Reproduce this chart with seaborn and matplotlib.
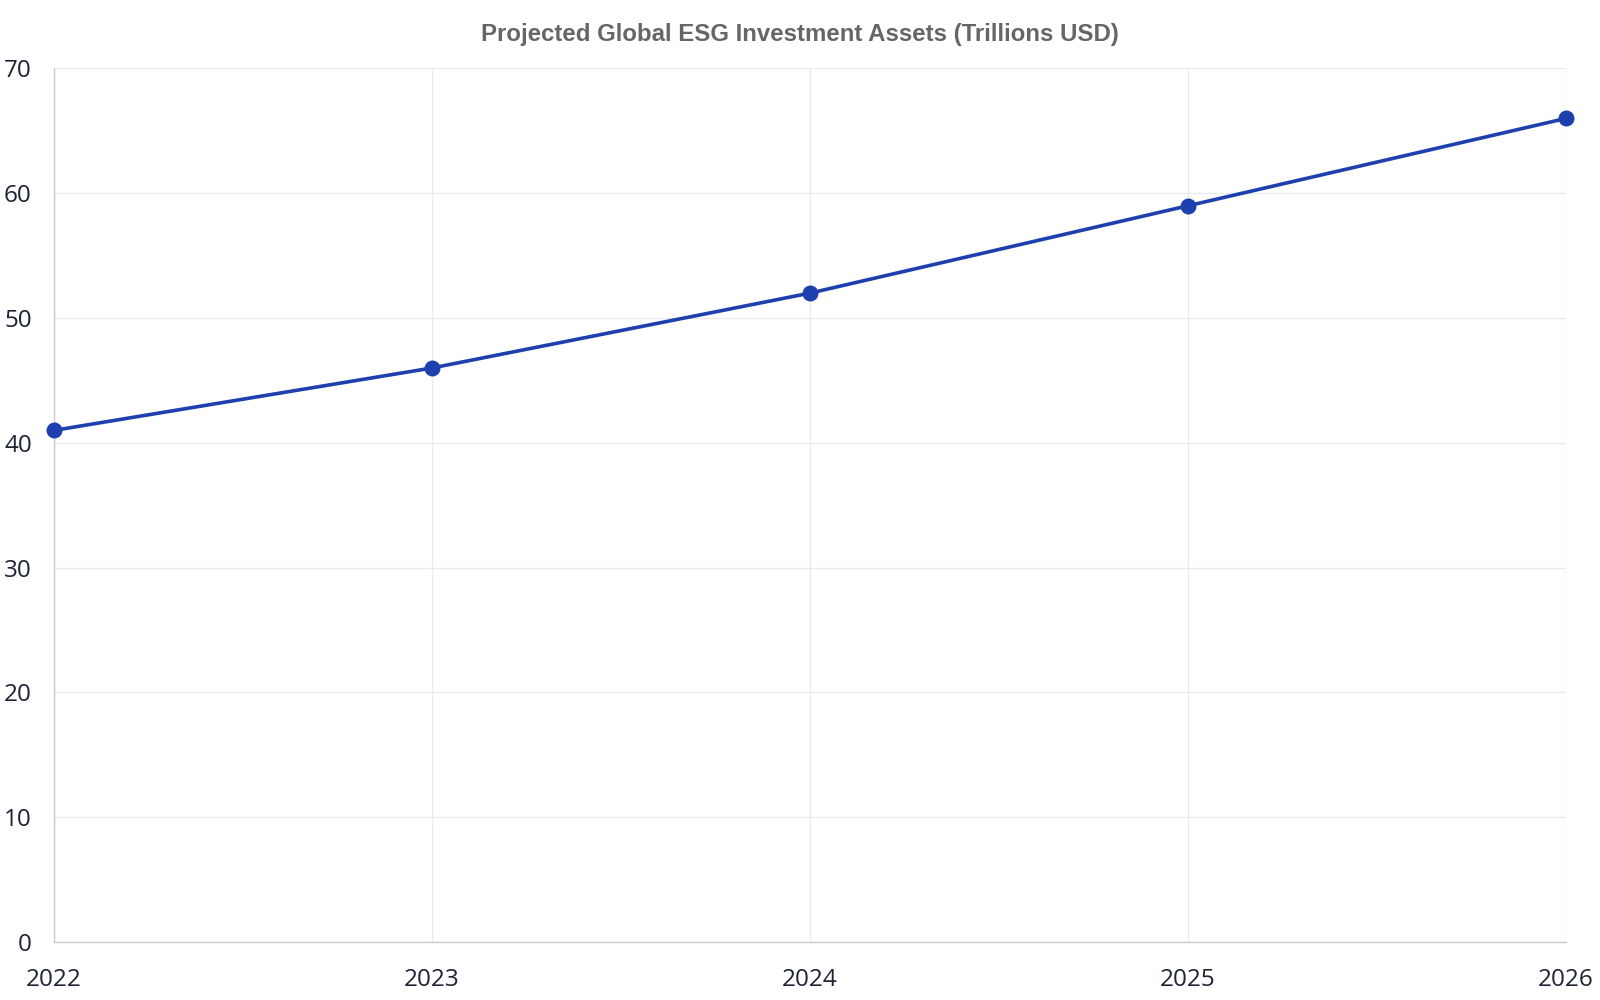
import matplotlib
matplotlib.use("Agg")
import matplotlib.pyplot as plt
import seaborn as sns
import pandas as pd

years = [2022, 2023, 2024, 2025, 2026]
assets = [41, 46, 52, 59, 66]
y_ticks = [0, 10, 20, 30, 40, 50, 60, 70]
title = "Projected Global ESG Investment Assets (Trillions USD)"

df = pd.DataFrame({"year": years, "assets": assets})

sns.set_theme(style="white")
plt.rcParams['font.family'] = ['Open Sans', 'DejaVu Sans']

fig = plt.figure(figsize=(16, 10), dpi=100)
ax = fig.add_axes([54/1600, 1 - 942/1000, (1566-54)/1600, (942-68.5)/1000])

sns.lineplot(data=df, x="year", y="assets", ax=ax, color="#1e3fae",
             linewidth=2.6, marker="o", markersize=11.5,
             markeredgewidth=0, markeredgecolor="#1e3fae", zorder=5, clip_on=False)

ax.set_xlim(years[0], years[-1])
ax.set_ylim(y_ticks[0], y_ticks[-1])
ax.set_xticks(years)
ax.set_xticklabels([str(y) for y in years])
ax.set_yticks(y_ticks)
ax.set_xlabel("")
ax.set_ylabel("")

ax.grid(True, color="#ebebeb", linewidth=1.0)
ax.set_axisbelow(True)
for s in ["top", "right"]:
    ax.spines[s].set_visible(False)
for s in ["left", "bottom"]:
    ax.spines[s].set_visible(True)
    ax.spines[s].set_color("#cccccc")
    ax.spines[s].set_linewidth(1.0)

ax.tick_params(axis="both", which="major", length=11, width=1.0, color="#ebebeb",
               labelsize=17.5, labelcolor="#1c2333", pad=5)
ax.tick_params(axis="x", pad=8)

fig.text(800/1600, 1 - 35/1000, title, ha="center", va="center",
         fontsize=17.3, fontweight="bold", color="#666666",
         family=["Liberation Sans", "DejaVu Sans"])

fig.savefig("out.png", dpi=100)
